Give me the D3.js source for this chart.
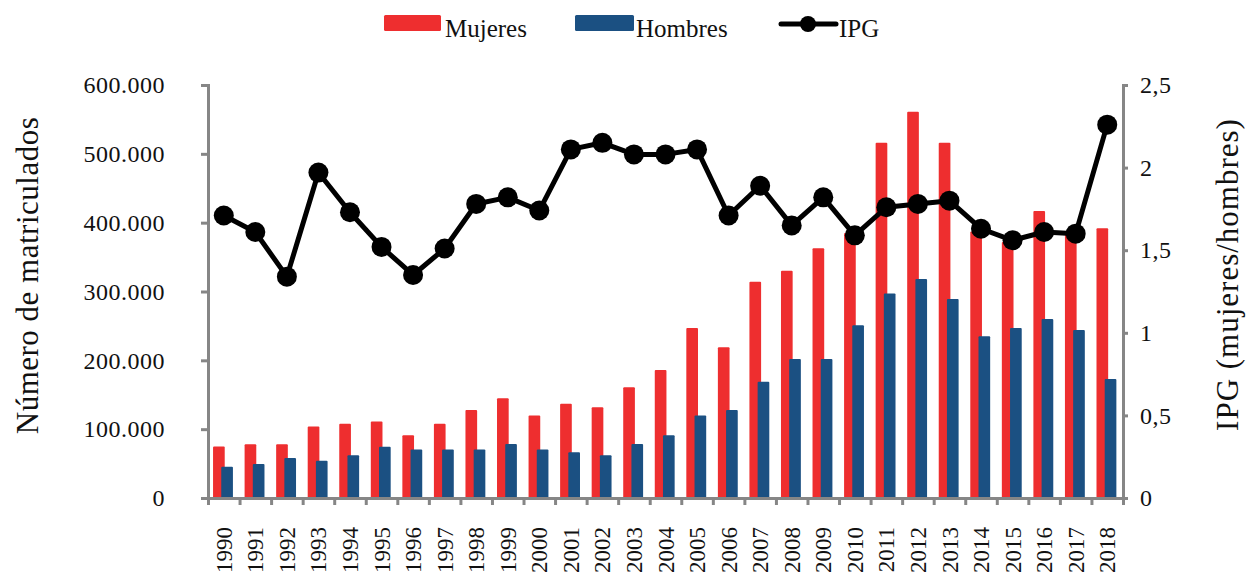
<!DOCTYPE html>
<html>
<head>
<meta charset="utf-8">
<script src="https://cdn.jsdelivr.net/npm/d3@7"></script>
<style>
  body { margin: 0; background: #fff; }
  text { font-family: "Liberation Serif", "DejaVu Serif", serif; fill: #111; }
</style>
</head>
<body>
<svg id="chart" width="1246" height="579"></svg>
<script>
// data
var years = d3.range(1990, 2019).map(String);
var mujeres = [75000, 78000, 78000, 104000, 108000, 111000, 91000, 108000, 128000, 145000,
	120000, 137000, 132000, 161000, 186000, 247000, 219000, 314000, 330000, 363000,
	385000, 516000, 561000, 516000, 387000, 372000, 417000, 388000, 392000];
var hombres = [45500, 49500, 58000, 54000, 62000, 74500, 70500, 70500, 70500, 78500,
	70500, 66500, 62000, 78500, 91000, 120000, 128000, 169000, 202000, 202000,
	251000, 297000, 318000, 289000, 235000, 247000, 260000, 244000, 173000];
var ipg = [1.71, 1.61, 1.34, 1.97, 1.73, 1.52, 1.35, 1.51, 1.78, 1.82,
	1.74, 2.11, 2.15, 2.08, 2.08, 2.11, 1.71, 1.89, 1.65, 1.82,
	1.59, 1.76, 1.78, 1.80, 1.63, 1.56, 1.61, 1.60, 2.26];
var leftTicks = [0, 100000, 200000, 300000, 400000, 500000, 600000];
var rightTicks = [0, 0.5, 1, 1.5, 2, 2.5];

var red = "#ee2e2f", blue = "#1b5082", grey = "#868686";

//set plot area (window.top is taken, so plot* names)
var plotLeft = 208, plotRight = 1123, plotTop = 85, plotBottom = 498;

var locale = d3.formatLocale({decimal: ",", thousands: ".", grouping: [3], currency: ["", ""]});
var fmtLeft = locale.format(",.0f");
var fmtRight = function(d){ return locale.format(",")(d); };

var svg = d3.select("#chart");

var x = d3.scaleBand().domain(years).range([plotLeft, plotRight]).padding(0);
var xEdge = d3.scaleLinear().domain([0, years.length]).range([plotLeft, plotRight]);
var y = d3.scaleLinear().domain([0, 600000]).range([plotBottom, plotTop]);
var y2 = d3.scaleLinear().domain([0, 2.5]).range([plotBottom, plotTop]);

var bw = x.bandwidth();

//bars
svg.append("g").selectAll("rect")
	.data(mujeres)
	.enter().append("rect")
	.attr("x", function(d, i){ return x(years[i]) + bw * 0.16; })
	.attr("width", bw * 0.37)
	.attr("y", function(d){ return y(d); })
	.attr("height", function(d){ return plotBottom - y(d); })
	.attr("rx", 1)
	.attr("fill", red);

svg.append("g").selectAll("rect")
	.data(hombres)
	.enter().append("rect")
	.attr("x", function(d, i){ return x(years[i]) + bw * 0.42; })
	.attr("width", bw * 0.37)
	.attr("y", function(d){ return y(d); })
	.attr("height", function(d){ return plotBottom - y(d); })
	.attr("rx", 1)
	.attr("fill", blue);

//axes
svg.append("g").attr("class", "axis")
	.attr("transform", "translate(" + plotLeft + ",0)")
	.call(d3.axisLeft(y).tickValues(leftTicks).tickFormat(fmtLeft).tickSizeOuter(0).tickSize(7).tickPadding(36));

svg.append("g").attr("class", "axis")
	.attr("transform", "translate(" + plotRight + ",0)")
	.call(d3.axisRight(y2).tickValues(rightTicks).tickFormat(fmtRight).tickSizeOuter(0).tickSize(5).tickPadding(12));

svg.append("g").attr("class", "axis")
	.attr("transform", "translate(0," + plotBottom + ")")
	.call(d3.axisBottom(xEdge).tickValues(d3.range(years.length + 1)).tickFormat("").tickSizeOuter(0).tickSize(7));

var gbl = svg.append("g")
	.attr("transform", "translate(0," + plotBottom + ")")
	.call(d3.axisBottom(x).tickSize(0));
gbl.select(".domain").remove();
gbl.selectAll("text")
	.attr("transform", "rotate(-90)")
	.attr("x", -29)
	.attr("y", 0)
	.attr("dy", "0.35em")
	.style("text-anchor", "end")
	.style("font-size", "23px")
	.style("font-family", "Liberation Serif, serif")
	.attr("fill", "#111");

svg.selectAll(".axis .domain").attr("stroke", grey).attr("stroke-width", 3);
svg.selectAll(".axis .tick line").attr("stroke", grey).attr("stroke-width", 3);
svg.selectAll(".axis text")
	.style("font-size", "24px")
	.style("letter-spacing", "0.5px")
	.style("font-family", "Liberation Serif, serif")
	.attr("fill", "#111");

//IPG line
var line = d3.line()
	.x(function(d, i){ return x(years[i]) + bw / 2; })
	.y(function(d){ return y2(d); });

svg.append("path")
	.datum(ipg)
	.attr("d", line)
	.attr("fill", "none")
	.attr("stroke", "#000")
	.attr("stroke-width", 5)
	.attr("stroke-linejoin", "round");

svg.append("g").selectAll("circle")
	.data(ipg)
	.enter().append("circle")
	.attr("cx", function(d, i){ return x(years[i]) + bw / 2; })
	.attr("cy", function(d){ return y2(d); })
	.attr("r", 10)
	.attr("fill", "#000");

//axis titles
svg.append("text")
	.attr("transform", "translate(38," + ((plotTop + plotBottom) / 2 - 16) + ") rotate(-90)")
	.attr("text-anchor", "middle")
	.style("font-size", "31px")
	.style("letter-spacing", "0.5px")
	.text("Número de matriculados");

svg.append("text")
	.attr("transform", "translate(1238," + ((plotTop + plotBottom) / 2 - 17) + ") rotate(-90)")
	.attr("text-anchor", "middle")
	.style("font-size", "31px")
	.style("letter-spacing", "1px")
	.text("IPG (mujeres/hombres)");

//legend
var legend = svg.append("g").style("font-size", "25px");
legend.append("rect").attr("x", 384).attr("y", 15).attr("width", 57).attr("height", 16).attr("rx", 1.5).attr("fill", red);
legend.append("text").attr("x", 445).attr("y", 37).text("Mujeres");
legend.append("rect").attr("x", 575).attr("y", 15).attr("width", 59).attr("height", 16).attr("rx", 1.5).attr("fill", blue);
legend.append("text").attr("x", 636).attr("y", 37).text("Hombres");
legend.append("line").attr("x1", 781).attr("x2", 836).attr("y1", 24).attr("y2", 24)
	.attr("stroke", "#000").attr("stroke-width", 5).attr("stroke-linecap", "round");
legend.append("circle").attr("cx", 808).attr("cy", 24).attr("r", 8).attr("fill", "#000");
legend.append("text").attr("x", 839).attr("y", 37).text("IPG");
</script>
</body>
</html>
